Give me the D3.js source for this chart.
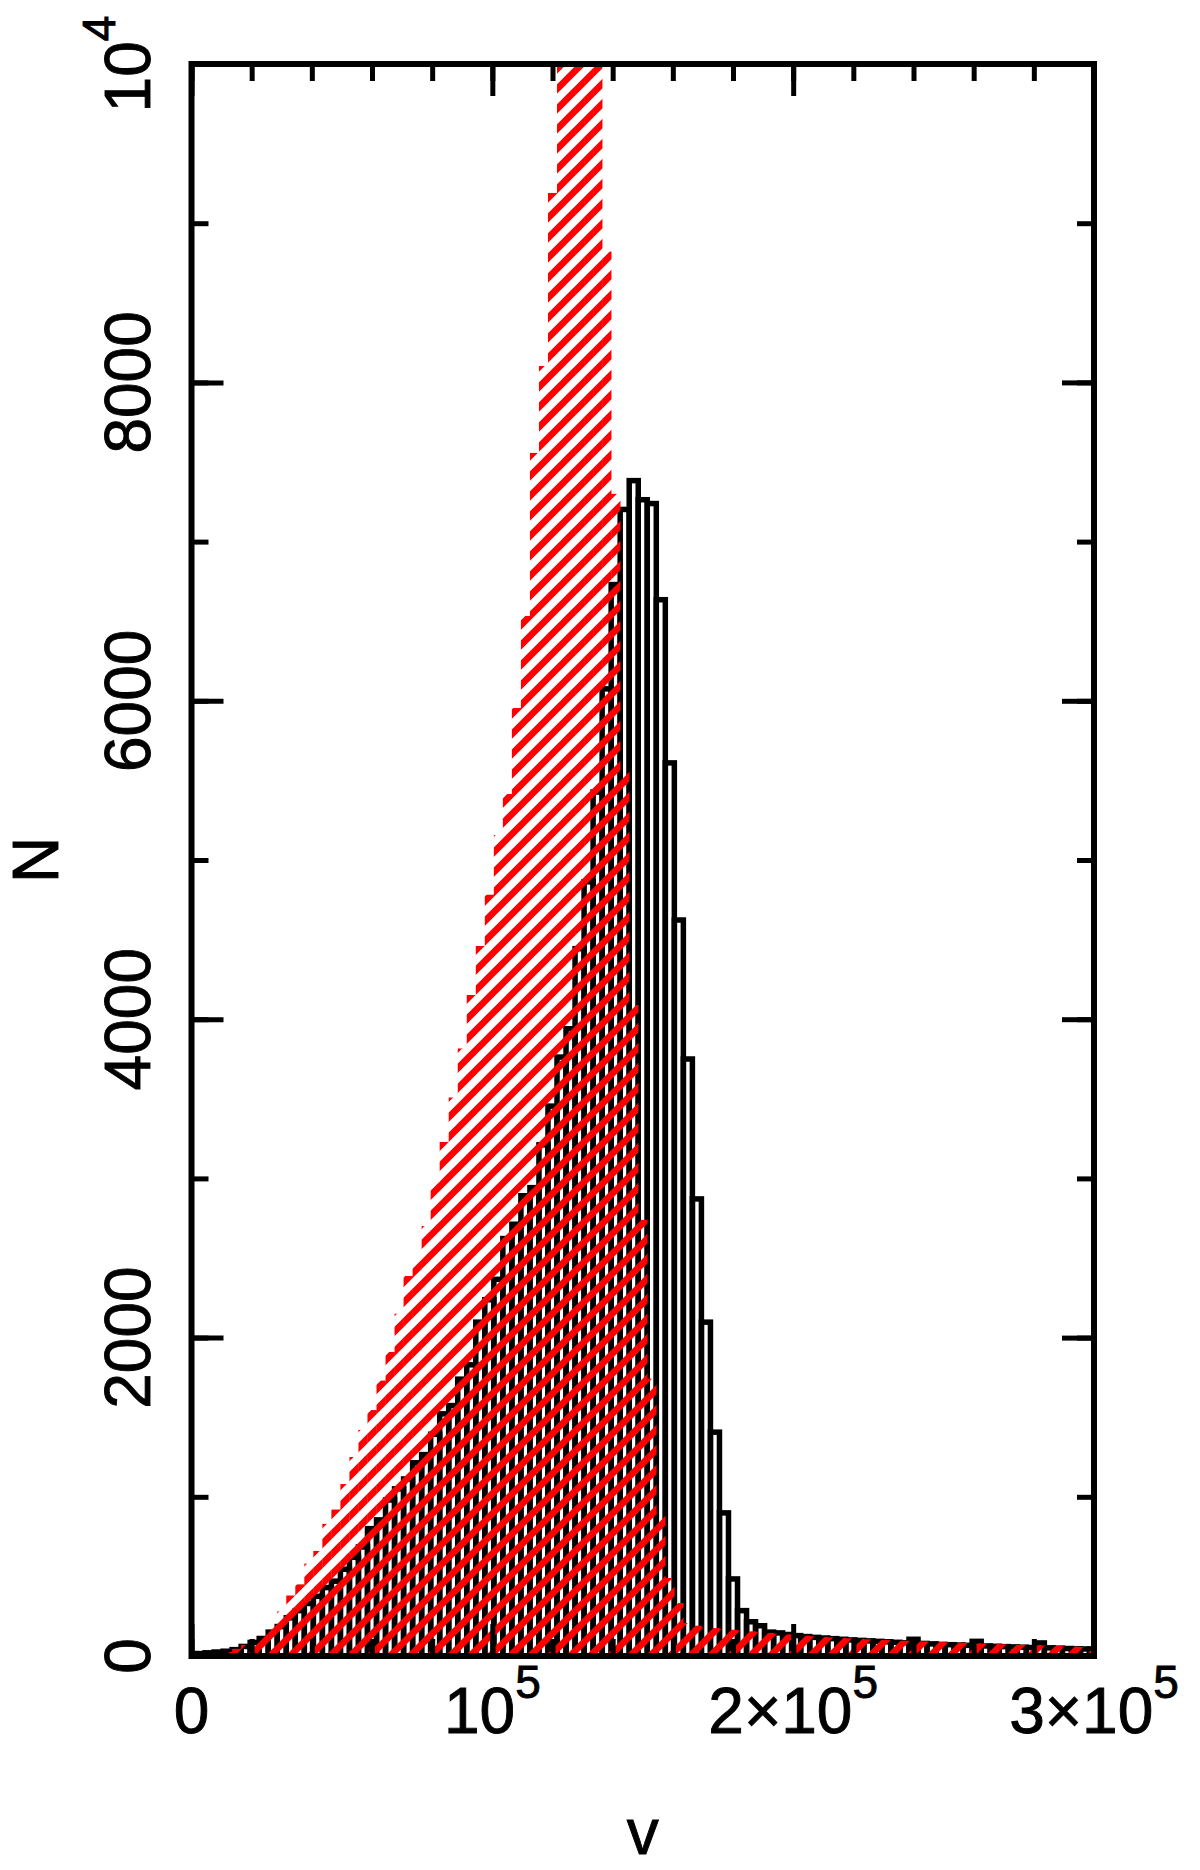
<!DOCTYPE html>
<html>
<head>
<meta charset="utf-8">
<script src="https://cdn.jsdelivr.net/npm/d3@7/dist/d3.min.js"></script>
<style>
  html, body { margin: 0; padding: 0; background: #fff; }
  svg { display: block; }
  text { font-family: "Liberation Sans", Arial, Helvetica, sans-serif; fill: #000; stroke: #000; stroke-width: 0.9px; }
</style>
</head>
<body>
<svg id="chart" width="1200" height="1870"></svg>
<script>
// ---------------- data ----------------
// bin width 3000, bins centred on k*3000 (k = 0..100)
const binWidth = 3000;
const binCenters = d3.range(0, 101).map(k => k * binWidth);

// black outlined histogram (counts per bin)
const blackCounts = [
  15, 15, 20, 25, 30, 40, 60, 85, 110, 150,
  185, 240, 285, 330, 375, 430, 470, 545, 620, 685,
  800, 855, 980, 1050, 1112, 1214, 1265, 1393, 1521, 1573,
  1739, 1829, 2097, 2238, 2366, 2622, 2712, 2891, 2942, 3211,
  3454, 3762, 3940, 4443, 4863, 5427, 6075, 6730, 7202, 7383,
  7263, 7239, 6635, 5610, 4623, 3750, 2871, 2097, 1406, 899,
  484, 285, 215, 190, 150, 145, 135, 128, 122, 117,
  113, 109, 105, 101, 98, 95, 92, 89, 86, 83,
  105, 79, 76, 73, 71, 69, 67, 92, 63, 61,
  59, 57, 55, 53, 82, 51, 49, 47, 45, 44,
  43
];

// red hatched histogram (counts per bin; bins 41-45 run off the top)
const redCounts = [
  0, 5, 10, 15, 25, 45, 70, 100, 140, 210,
  280, 380, 450, 580, 660, 830, 920, 1080, 1250, 1420,
  1545, 1730, 1910, 2150, 2387, 2500, 2700, 2977, 3229, 3508,
  3816, 4152, 4460, 4782, 5157, 5415, 5955, 6533, 7557, 8103,
  9190, 10600, 11400, 11800, 11500, 10700, 8822, 7300, 5553, 4089,
  2740, 1742, 898, 490, 333, 207, 190, 180, 175, 170,
  165, 160, 155, 150, 145, 140, 136, 132, 128, 124,
  120, 117, 114, 111, 108, 105, 102, 100, 98, 96,
  94, 92, 90, 88, 86, 84, 82, 80, 78, 76,
  74, 72, 70, 68, 66, 64, 62, 60, 58, 56,
  55
];

// axes
const xDomain = [0, 300000];
const yDomain = [0, 10000];
const xMajorTicks = [0, 100000, 200000, 300000];
const xTickLabels = [["0", ""], ["10", "5"], ["2\u00d710", "5"], ["3\u00d710", "5"]];
const xMinorTicks = d3.range(0, 300001, 20000);
const yMajorTicks = [0, 2000, 4000, 6000, 8000, 10000];
const yTickLabels = [["0", ""], ["2000", ""], ["4000", ""], ["6000", ""], ["8000", ""], ["10", "4"]];
const yMinorTicks = d3.range(0, 10001, 1000);
const xTitle = "v";
const yTitle = "N";

// ---------------- layout ----------------
const plot = { left: 191.5, right: 1094, top: 64, bottom: 1656 };
const x = d3.scaleLinear().domain(xDomain).range([plot.left, plot.right]);
const y = d3.scaleLinear().domain(yDomain).range([plot.bottom, plot.top]);

const svg = d3.select("#chart");
const defs = svg.append("defs");

defs.append("clipPath").attr("id", "plotclip")
  .append("rect")
  .attr("x", plot.left).attr("y", plot.top)
  .attr("width", plot.right - plot.left).attr("height", plot.bottom - plot.top);

const pat = defs.append("pattern")
  .attr("id", "hatch")
  .attr("patternUnits", "userSpaceOnUse")
  .attr("x", 6).attr("y", 0)
  .attr("width", 20).attr("height", 20);
pat.append("path")
  .attr("d", "M-5,5 L5,-5 M0,20 L20,0 M15,25 L25,15")
  .attr("stroke", "#ff0000")
  .attr("stroke-width", 6.6)
  .attr("stroke-linecap", "square");

const bars = svg.append("g").attr("clip-path", "url(#plotclip)");

// black outlined bars
const blackData = binCenters.map((c, i) => ({ c, n: blackCounts[i] }));
bars.append("g").selectAll("rect")
  .data(blackData)
  .join("rect")
  .attr("x", d => x(d.c - binWidth / 2))
  .attr("width", d => x(d.c + binWidth / 2) - x(d.c - binWidth / 2))
  .attr("y", d => y(d.n))
  .attr("height", d => y(0) - y(d.n))
  .attr("fill", "none")
  .attr("stroke", "#000")
  .attr("stroke-width", 5.5);

// red hatched bars
const redData = binCenters.map((c, i) => ({ c, n: redCounts[i] }));
bars.append("g").selectAll("rect")
  .data(redData.filter(d => d.n > 0))
  .join("rect")
  .attr("x", d => x(d.c - binWidth / 2))
  .attr("width", d => x(d.c + binWidth / 2) - x(d.c - binWidth / 2) + 0.3)
  .attr("y", d => y(d.n))
  .attr("height", d => y(0) - y(d.n))
  .attr("fill", "url(#hatch)")
  .attr("stroke", "none");

// ---------------- ticks (inward, all four sides) ----------------
function styleTicks(g) {
  g.select(".domain").remove();
  g.selectAll(".tick line").attr("stroke", "#000").attr("stroke-width", 5);
  g.selectAll(".tick text").remove();
}
const majorLen = 32, minorLen = 17;
svg.append("g").attr("transform", `translate(0,${plot.bottom})`)
  .call(d3.axisBottom(x).tickValues(xMinorTicks).tickSize(-minorLen).tickFormat("")).call(styleTicks);
svg.append("g").attr("transform", `translate(0,${plot.bottom})`)
  .call(d3.axisBottom(x).tickValues(xMajorTicks).tickSize(-majorLen).tickFormat("")).call(styleTicks);
svg.append("g").attr("transform", `translate(0,${plot.top})`)
  .call(d3.axisTop(x).tickValues(xMinorTicks).tickSize(-minorLen).tickFormat("")).call(styleTicks);
svg.append("g").attr("transform", `translate(0,${plot.top})`)
  .call(d3.axisTop(x).tickValues(xMajorTicks).tickSize(-majorLen).tickFormat("")).call(styleTicks);
svg.append("g").attr("transform", `translate(${plot.left},0)`)
  .call(d3.axisLeft(y).tickValues(yMinorTicks).tickSize(-minorLen).tickFormat("")).call(styleTicks);
svg.append("g").attr("transform", `translate(${plot.left},0)`)
  .call(d3.axisLeft(y).tickValues(yMajorTicks).tickSize(-majorLen).tickFormat("")).call(styleTicks);
svg.append("g").attr("transform", `translate(${plot.right},0)`)
  .call(d3.axisRight(y).tickValues(yMinorTicks).tickSize(-minorLen).tickFormat("")).call(styleTicks);
svg.append("g").attr("transform", `translate(${plot.right},0)`)
  .call(d3.axisRight(y).tickValues(yMajorTicks).tickSize(-majorLen).tickFormat("")).call(styleTicks);

// frame
svg.append("rect")
  .attr("x", plot.left).attr("y", plot.top)
  .attr("width", plot.right - plot.left).attr("height", plot.bottom - plot.top)
  .attr("fill", "none").attr("stroke", "#000").attr("stroke-width", 6)
  .attr("stroke-linejoin", "miter");

// ---------------- tick labels ----------------
const mainSize = 64, supSize = 46, supRise = 35;

function addLabel(t, parts) {
  t.append("tspan").text(parts[0]);
  if (parts[1]) {
    t.append("tspan").attr("dy", -supRise).attr("font-size", supSize).text(parts[1]);
  }
}

xMajorTicks.forEach((v, i) => {
  const t = svg.append("text")
    .attr("x", x(v)).attr("y", 1733)
    .attr("text-anchor", "middle")
    .attr("font-size", mainSize);
  addLabel(t, xTickLabels[i]);
});

yMajorTicks.forEach((v, i) => {
  const t = svg.append("text")
    .attr("transform", `translate(150,${y(v)}) rotate(-90)`)
    .attr("text-anchor", "middle")
    .attr("font-size", mainSize);
  addLabel(t, yTickLabels[i]);
});

// axis titles
svg.append("text")
  .attr("x", (plot.left + plot.right) / 2).attr("y", 1854)
  .attr("text-anchor", "middle").attr("font-size", mainSize)
  .text(xTitle);
svg.append("text")
  .attr("transform", `translate(58,${(plot.top + plot.bottom) / 2}) rotate(-90)`)
  .attr("text-anchor", "middle").attr("font-size", mainSize)
  .text(yTitle);
</script>
</body>
</html>
